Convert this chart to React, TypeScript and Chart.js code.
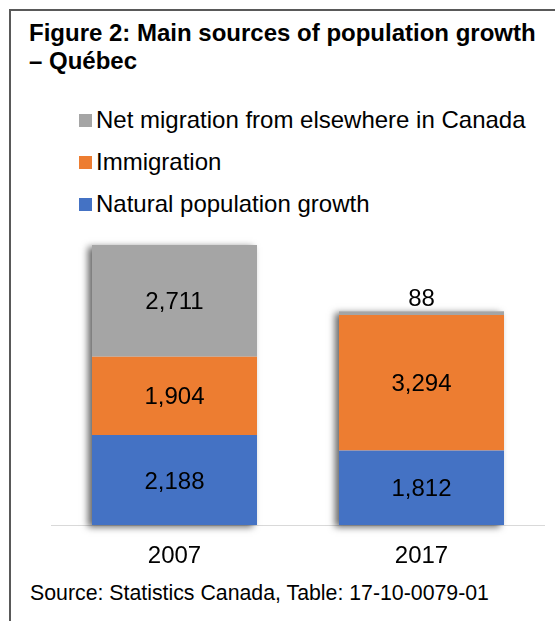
import React, { useEffect, useRef } from "react";
import { Chart, registerables } from "chart.js";

Chart.register(...registerables);

// ---- data ----
const categories = ["2007", "2017"];
const naturalGrowth = [2188, 1812];
const immigration = [1904, 3294];
const netMigrationCanada = [2711, 88];
const seriesNames = [
  "Natural population growth",
  "Immigration",
  "Net migration from elsewhere in Canada",
];
const seriesColors = ["#4472C4", "#ED7D31", "#A5A5A5"];
const yMax = 7000;
const titleLines = ["Figure 2: Main sources of population growth", "– Québec"];
const sourceText = "Source: Statistics Canada, Table: 17-10-0079-01";

const FONT = '"Liberation Sans", Arial, Helvetica, sans-serif';

const stackShadow = {
  id: "stackShadow",
  beforeDatasetsDraw(chart: any) {
    const ctx = chart.ctx;
    const metas = chart.data.datasets.map((_: any, i: number) => chart.getDatasetMeta(i));
    categories.forEach((_, j) => {
      let top = Infinity;
      let base = -Infinity;
      let x = 0;
      let w = 0;
      metas.forEach((m: any) => {
        const el = m.data[j];
        if (!el) return;
        const p = el.getProps(["x", "y", "base", "width"], true);
        top = Math.min(top, p.y, p.base);
        base = Math.max(base, p.base, p.y);
        x = p.x;
        w = p.width;
      });
      ctx.save();
      ctx.shadowColor = "rgba(0,0,0,0.6)";
      ctx.shadowBlur = 7;
      ctx.shadowOffsetX = -4;
      ctx.shadowOffsetY = 2;
      ctx.fillStyle = "#ffffff";
      ctx.fillRect(x - w / 2, top, w, base - top);
      ctx.restore();
    });
  },
};

const valueLabels = {
  id: "valueLabels",
  afterDatasetsDraw(chart: any) {
    const ctx = chart.ctx;
    ctx.save();
    ctx.font = `24px ${FONT}`;
    ctx.fillStyle = "#000000";
    ctx.textAlign = "center";
    ctx.textBaseline = "alphabetic";
    chart.data.datasets.forEach((ds: any, i: number) => {
      const meta = chart.getDatasetMeta(i);
      meta.data.forEach((el: any, j: number) => {
        const v = ds.data[j];
        const p = el.getProps(["x", "y", "base"], true);
        const h = Math.abs(p.base - p.y);
        const cy = h < 24 ? Math.min(p.y, p.base) - 13.5 : (p.y + p.base) / 2;
        ctx.fillText(v.toLocaleString("en-US"), p.x, cy + 8.6);
      });
    });
    ctx.restore();
  },
};

export default function App() {
  const canvasRef = useRef<HTMLCanvasElement | null>(null);

  useEffect(() => {
    const canvas = canvasRef.current;
    if (!canvas) return;
    const seriesData = [naturalGrowth, immigration, netMigrationCanada];
    const chart = new Chart(canvas, {
      type: "bar",
      data: {
        labels: categories,
        datasets: seriesData.map((d, i) => ({
          label: seriesNames[i],
          data: d,
          backgroundColor: seriesColors[i],
          borderWidth: 0,
          categoryPercentage: 1,
          barPercentage: 0.668,
          clip: false as any,
        })),
      },
      options: {
        animation: false,
        responsive: true,
        maintainAspectRatio: false,
        layout: { padding: 0 },
        plugins: {
          legend: { display: false },
          title: { display: false },
          tooltip: { enabled: false },
        },
        scales: {
          x: {
            stacked: true,
            grid: { display: false, drawTicks: false },
            border: { display: true, color: "#D9D9D9", width: 1 },
            ticks: {
              color: "#000000",
              padding: 17,
              font: { family: FONT, size: 24 },
            },
            afterFit(scale: any) {
              scale.height = 40;
            },
          },
          y: {
            stacked: true,
            display: false,
            min: 0,
            max: yMax,
          },
        },
      },
      plugins: [stackShadow, valueLabels],
    });
    return () => chart.destroy();
  }, []);

  const legendOrder = [2, 1, 0];
  const legendTops = [106, 148, 190];

  return (
    <div
      style={{
        position: "fixed",
        left: 0,
        top: 0,
        width: 555,
        height: 621,
        overflow: "hidden",
        background: "#ffffff",
        fontFamily: FONT,
        color: "#000000",
      }}
    >
      <div
        style={{
          position: "absolute",
          left: 9,
          top: 9,
          width: 700,
          height: 800,
          border: "2px solid #595959",
        }}
      />
      <div
        style={{
          position: "absolute",
          left: 29,
          top: 19,
          fontSize: 24,
          fontWeight: "bold",
          lineHeight: "27.5px",
          whiteSpace: "nowrap",
        }}
      >
        {titleLines.map((t, i) => (
          <div key={i}>{t}</div>
        ))}
      </div>
      {legendOrder.map((si, k) => (
        <div
          key={si}
          style={{
            position: "absolute",
            left: 79,
            top: legendTops[k],
            height: 27,
            display: "flex",
            alignItems: "flex-start",
            whiteSpace: "nowrap",
          }}
        >
          <span
            style={{
              display: "inline-block",
              width: 13,
              height: 13,
              marginTop: 8,
              background: seriesColors[si],
            }}
          />
          <span style={{ marginLeft: 4, fontSize: 24, lineHeight: "27px" }}>
            {seriesNames[si]}
          </span>
        </div>
      ))}
      <div
        style={{
          position: "absolute",
          left: 51,
          top: 237,
          width: 494,
          height: 328,
        }}
      >
        <canvas ref={canvasRef} />
      </div>
      <div
        style={{
          position: "absolute",
          left: 30,
          top: 581,
          fontSize: 21.3,
          lineHeight: "24px",
          whiteSpace: "nowrap",
        }}
      >
        {sourceText}
      </div>
    </div>
  );
}
